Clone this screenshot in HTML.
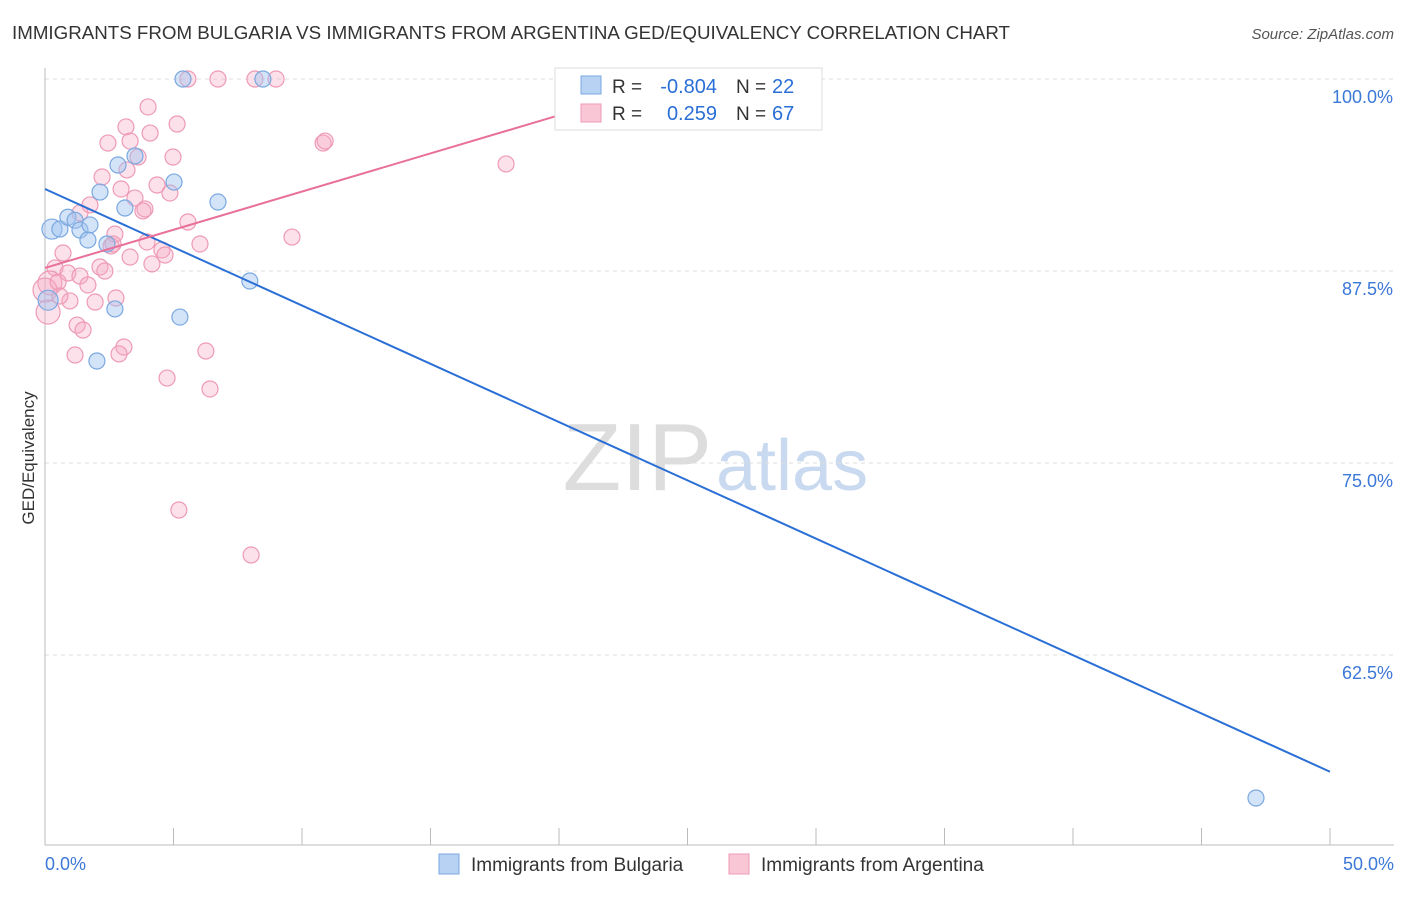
<!DOCTYPE html>
<html><head><meta charset="utf-8"><style>
body{margin:0;background:#fff;font-family:"Liberation Sans",sans-serif;}
svg text{font-family:"Liberation Sans",sans-serif;}
</style></head><body>
<svg id="chart" width="1406" height="892">
<text x="12" y="39" font-size="18" fill="#333" textLength="998" lengthAdjust="spacingAndGlyphs">IMMIGRANTS FROM BULGARIA VS IMMIGRANTS FROM ARGENTINA GED/EQUIVALENCY CORRELATION CHART</text>
<text x="1394" y="39" font-size="15" fill="#555" font-style="italic" text-anchor="end">Source: ZipAtlas.com</text>
<text x="712" y="490" font-size="96" fill="#ddd" text-anchor="end" font-family="Liberation Serif">ZIP</text>
<text x="716" y="490" font-size="72" fill="#c9d9ef">atlas</text>
<g id="grid"></g><g id="axes"></g><g id="pts"></g><g id="lines"></g>
<text transform="translate(34,458) rotate(-90)" font-size="17" fill="#333" text-anchor="middle">GED/Equivalency</text>
<g>
<rect x="555" y="68" width="267" height="62" fill="#fff" stroke="#ddd"/>
<rect x="581" y="76" width="20" height="18" fill="#b8d2f4" stroke="#7aa8e0"/>
<rect x="581" y="104" width="20" height="18" fill="#f9c6d6" stroke="#ee9ab5"/>
<text x="612" y="93" font-size="19" fill="#333">R =</text>
<text x="717" y="93" font-size="20" fill="#2a6fd6" text-anchor="end">-0.804</text>
<text x="736" y="93" font-size="19" fill="#333">N =</text>
<text x="772" y="93" font-size="20" fill="#2a6fd6">22</text>
<text x="612" y="120" font-size="19" fill="#333">R =</text>
<text x="717" y="120" font-size="20" fill="#2a6fd6" text-anchor="end">0.259</text>
<text x="736" y="120" font-size="19" fill="#333">N =</text>
<text x="772" y="120" font-size="20" fill="#2a6fd6">67</text>
</g>
<g>
<rect x="439" y="854" width="20" height="20" fill="#b8d2f4" stroke="#7aa8e0"/>
<text x="471" y="871" font-size="19" fill="#333">Immigrants from Bulgaria</text>
<rect x="729" y="854" width="20" height="20" fill="#f9c6d6" stroke="#ee9ab5"/>
<text x="761" y="871" font-size="19" fill="#333">Immigrants from Argentina</text>
</g>
</svg>
<script>
const yTicks=[100,87.5,75,62.5];
const xTickLabels=["0.0%","50.0%"];
const blueX=[5.37,8.48,0.27,0.58,0.89,1.17,1.36,1.67,1.75,2.14,2.41,2.84,3.11,3.5,5.02,6.73,7.97,2.72,5.25,2.02,47.12,0.12];
const blueY=[100,100,90.23,90.23,91.0,90.8,90.17,89.52,90.5,92.64,89.26,94.4,91.6,94.99,93.29,91.99,86.85,85.03,84.5,81.64,53.19,85.6];
const pinkX=[5.56,6.73,8.17,8.99,4.01,3.15,4.09,5.14,2.45,3.31,10.82,10.9,3.62,4.98,17.94,3.19,2.22,2.96,4.36,4.86,3.5,3.89,1.75,1.36,5.56,2.72,9.61,3.97,6.03,2.57,4.55,4.67,0.7,3.31,4.16,2.14,0.39,0.89,2.33,1.36,0.19,1.67,0,2.76,0.97,1.95,0.12,1.25,1.48,3.07,1.17,2.88,6.26,4.75,6.42,5.21,8.02,0.51,0.58,2.65,3.81];
const pinkY=[100,100,100,100,98.18,96.88,96.48,97.07,95.83,95.96,95.83,95.96,94.92,94.92,94.47,94.08,93.62,92.84,93.1,92.58,92.25,91.54,91.8,91.28,90.69,89.9,89.71,89.39,89.26,89.13,88.87,88.54,88.67,88.41,87.96,87.76,87.7,87.37,87.5,87.17,86.72,86.59,86.26,85.74,85.55,85.48,84.83,83.98,83.66,82.55,82.03,82.1,82.29,80.53,79.82,71.94,69.01,86.78,85.87,89.26,91.41];
const blueLine=[[0,92.84],[50,54.9]];
const pinkLine=[[0,87.7],[20.04,97.66]];
const X=v=>45+v/50*1285, Y=v=>79+(100-v)/12.5*192;
const NS="http://www.w3.org/2000/svg";
function mk(t,a,p){const e=document.createElementNS(NS,t);for(const k in a)e.setAttribute(k,a[k]);document.getElementById(p).appendChild(e);return e;}
yTicks.forEach(t=>{
 const l=mk('line',{x1:45,x2:1394,y1:Y(t),y2:Y(t),stroke:'#ddd','stroke-dasharray':'4,4'},'grid');
 
 
 const tx=mk('text',{x:1393,y:Y(t)+24,'font-size':18,fill:'#3b78d8','text-anchor':'end'},'axes');tx.textContent=t.toFixed(1)+'%';
 
 
});
let ax=mk('line',{x1:45,x2:45,y1:68,y2:845,stroke:'#bbb'},'axes');


ax=mk('line',{x1:45,x2:1394,y1:845,y2:845,stroke:'#bbb'},'axes');


for(let i=0;i<=10;i++){const t=mk('line',{x1:X(i*5),x2:X(i*5),y1:828,y2:845,stroke:'#bbb'},'axes');
 
 }
xTickLabels.forEach((s,i)=>{const t=mk('text',{x:i?1394:45,y:870,'font-size':18,fill:'#3b78d8','text-anchor':i?'end':'start'},'axes');t.textContent=s;
 
 });
pinkX.forEach((v,i)=>{const c=mk('circle',{cx:X(v),cy:Y(pinkY[i]),r:v<0.3?12:8,fill:'rgba(246,170,195,0.35)',stroke:'#ee9ab5','stroke-width':1.2},'pts');
 
 });
blueX.forEach((v,i)=>{const c=mk('circle',{cx:X(v),cy:Y(blueY[i]),r:v<0.3?10:8,fill:'rgba(160,196,240,0.45)',stroke:'#7aa8e0','stroke-width':1.2},'pts');
 
 });
let ln=mk('line',{x1:X(blueLine[0][0]),y1:Y(blueLine[0][1]),x2:X(blueLine[1][0]),y2:Y(blueLine[1][1]),stroke:'#2a6fd6','stroke-width':2},'lines');


ln=mk('line',{x1:X(pinkLine[0][0]),y1:Y(pinkLine[0][1]),x2:X(pinkLine[1][0]),y2:Y(pinkLine[1][1]),stroke:'#e8709a','stroke-width':2},'lines');


</script>
</body></html>
